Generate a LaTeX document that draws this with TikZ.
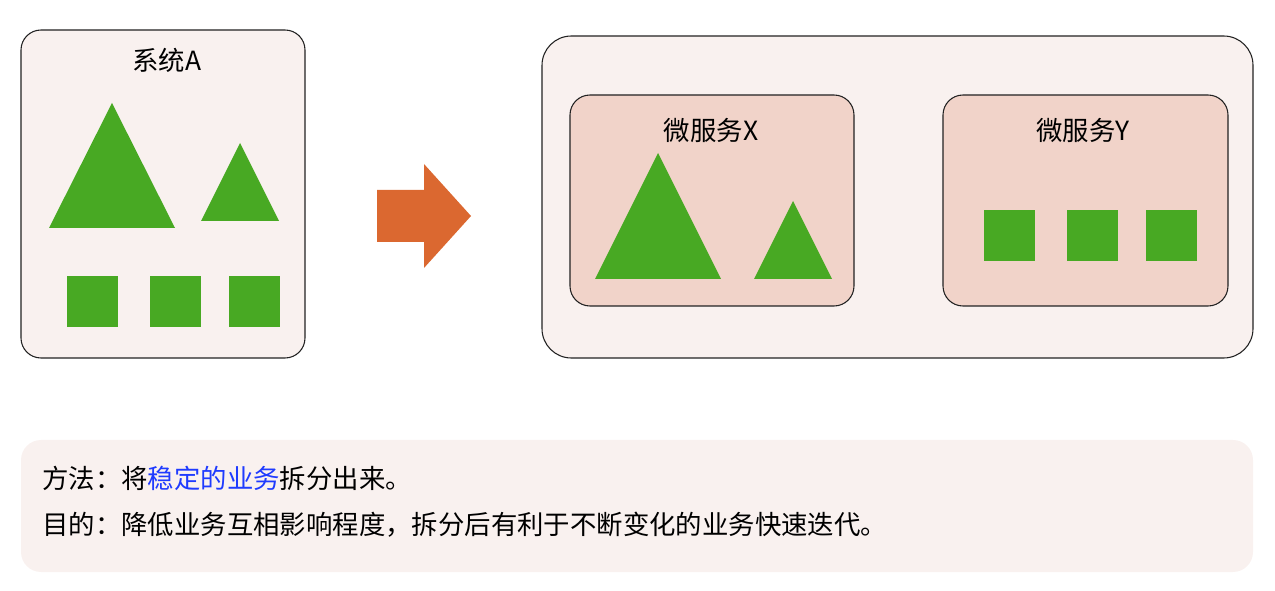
\documentclass[tikz,border=0pt]{standalone}
\usepackage{fontspec}
\setmainfont{Noto Sans CJK SC}
\definecolor{lightbg}{HTML}{F9F1EF}
\definecolor{msbg}{HTML}{F1D3C9}
\definecolor{shapegreen}{HTML}{48A923}
\definecolor{arroworange}{HTML}{DB6830}
\definecolor{bluetext}{HTML}{1F3BFF}
\definecolor{edgegray}{HTML}{222222}
\begin{document}
\begin{tikzpicture}[x=0.75pt,y=-0.75pt,
  sysbox/.style={draw=edgegray,line width=0.8pt,fill=lightbg},
  msbox/.style={draw=edgegray,line width=0.8pt,fill=msbg},
  shp/.style={fill=shapegreen},
  ttl/.style={font=\fontsize{19.8}{24}\selectfont,inner sep=0pt},
  txt/.style={font=\fontsize{19.8}{24}\selectfont,inner sep=0pt,anchor=west}]
\useasboundingbox (0,0) rectangle (1275,591);
% System A
\draw[sysbox,rounded corners=15pt] (21,30) rectangle (305,358);
\node[ttl] (tA) at (167,60) {系统A};
\fill[shp] (112,103) -- (175,228) -- (49,228) -- cycle;
\fill[shp] (240,143) -- (279,221) -- (201,221) -- cycle;
\fill[shp] (67,276) rectangle (118,327);
\fill[shp] (150,276) rectangle (201,327);
\fill[shp] (229,276) rectangle (280,327);
% Arrow
\fill[arroworange] (377,190) -- (424,190) -- (424,164) -- (471,216) -- (424,268) -- (424,242) -- (377,242) -- cycle;
% Outer box
\draw[sysbox,rounded corners=22pt] (542,36) rectangle (1253,358);
% Microservice X
\draw[msbox,rounded corners=15pt] (570,95) rectangle (854,306);
\node[ttl] (tX) at (711,130) {微服务X};
\fill[shp] (658,153) -- (721,279) -- (595,279) -- cycle;
\fill[shp] (793,201) -- (832,279) -- (754,279) -- cycle;
% Microservice Y
\draw[msbox,rounded corners=15pt] (943,95) rectangle (1228,306);
\node[ttl] (tY) at (1083,130) {微服务Y};
\fill[shp] (984,210) rectangle (1035,261);
\fill[shp] (1067,210) rectangle (1118,261);
\fill[shp] (1146,210) rectangle (1197,261);
% Bottom note
\fill[lightbg,rounded corners=15pt] (21,440) rectangle (1253,572);
\node[txt] (l1) at (42,478) {方法：将\textcolor{bluetext}{稳定的业务}拆分出来。};
\node[txt] (l2) at (42,525) {目的：降低业务互相影响程度，拆分后有利于不断变化的业务快速迭代。};
\end{tikzpicture}
\end{document}
